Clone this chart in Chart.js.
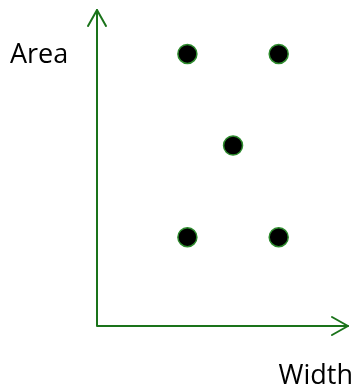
<!DOCTYPE html>
<html>
<head>
<meta charset="utf-8">
<script src="https://cdn.jsdelivr.net/npm/chart.js@4"></script>
<style>
html,body{margin:0;padding:0;background:#fff;}
#wrap{width:355px;height:389px;position:relative;}
</style>
</head>
<body>
<div id="wrap"><canvas id="c" width="355" height="389"></canvas></div>
<script>
const widthValues = [1, 2, 1.5, 1, 2];
const areaValues = [3, 3, 2, 1, 1];
const xAxisLabel = "Width";
const yAxisLabel = "Area";

const AXIS_COLOR = '#1a731a';

const pts = widthValues.map((w, i) => ({x: w, y: areaValues[i]}));

const axesPlugin = {
  id: 'axesArrows',
  beforeDatasetsDraw(chart) {
    const ctx = chart.ctx;
    const a = chart.chartArea;
    ctx.save();
    ctx.strokeStyle = AXIS_COLOR;
    ctx.lineWidth = 2;
    ctx.lineCap = 'round';
    ctx.lineJoin = 'round';
    // axes
    ctx.beginPath();
    ctx.moveTo(a.left, a.top + 1);
    ctx.lineTo(a.left, a.bottom);
    ctx.lineTo(a.right - 1, a.bottom);
    ctx.stroke();
    // top arrow head
    ctx.beginPath();
    ctx.moveTo(a.left - 9, a.top + 17);
    ctx.lineTo(a.left, a.top + 1);
    ctx.lineTo(a.left + 9, a.top + 17);
    ctx.stroke();
    // right arrow head
    ctx.beginPath();
    ctx.moveTo(a.right - 17, a.bottom - 9);
    ctx.lineTo(a.right - 1, a.bottom);
    ctx.lineTo(a.right - 17, a.bottom + 9);
    ctx.stroke();
    // labels
    ctx.fillStyle = '#000';
    ctx.font = '27px "Open Sans", sans-serif';
    ctx.textBaseline = 'alphabetic';
    ctx.textAlign = 'left';
    ctx.fillText(yAxisLabel, 10, 63);
    ctx.textAlign = 'right';
    ctx.fillText(xAxisLabel, 353, 384);
    ctx.restore();
  }
};

new Chart(document.getElementById('c'), {
  type: 'scatter',
  data: {
    datasets: [{
      data: pts,
      backgroundColor: '#000',
      borderColor: '#2e8b2e',
      borderWidth: 1.5,
      pointRadius: 9.5,
      pointHoverRadius: 9.5
    }]
  },
  options: {
    responsive: false,
    animation: false,
    devicePixelRatio: 1,
    layout: { autoPadding: false, padding: { left: 97, right: 6, top: 9, bottom: 63 } },
    plugins: { legend: { display: false }, tooltip: { enabled: false } },
    events: [],
    scales: {
      x: { type: 'linear', display: false, min: 0.01, max: 2.77 },
      y: { type: 'linear', display: false, min: 0.03, max: 3.49 }
    }
  },
  plugins: [axesPlugin]
});
</script>
</body>
</html>
